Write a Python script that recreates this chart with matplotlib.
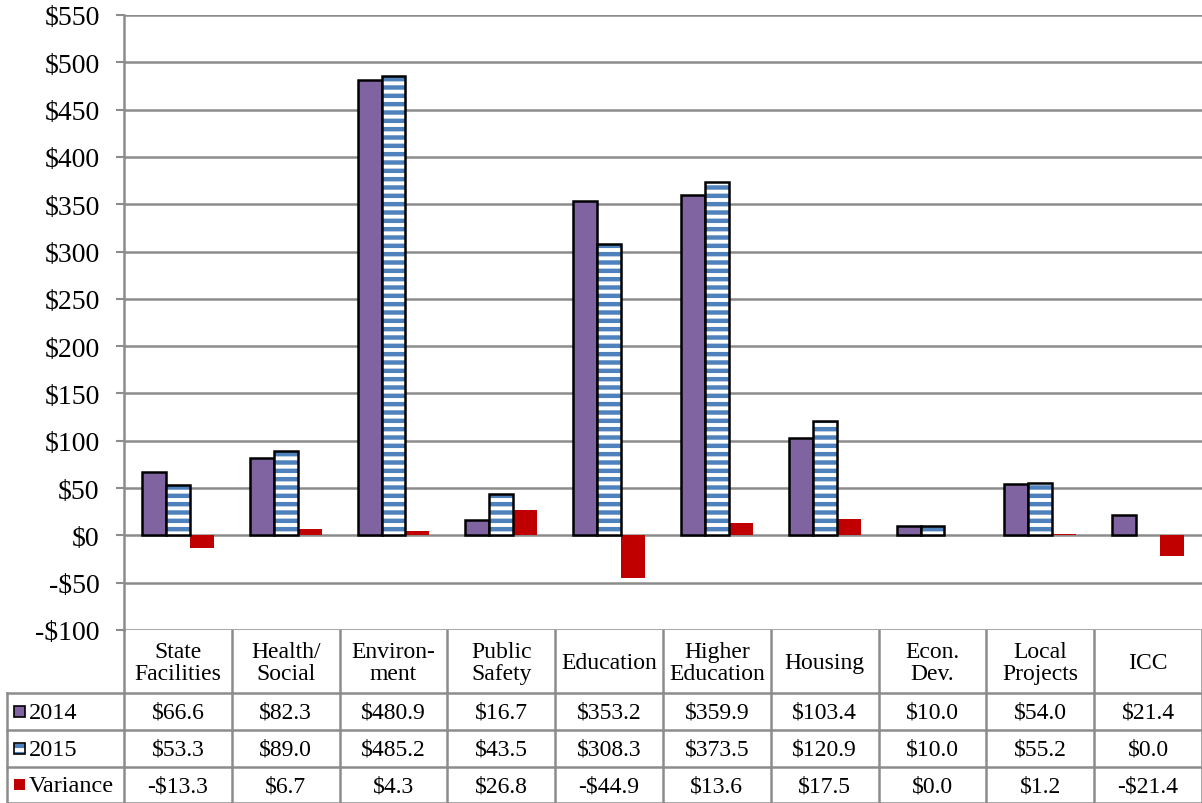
import numpy as np
import matplotlib
matplotlib.use('Agg')
import matplotlib.pyplot as plt
from matplotlib.patches import Rectangle

plt.rcParams['font.family'] = 'serif'
plt.rcParams['font.serif'] = ['Liberation Serif', 'DejaVu Serif']
plt.rcParams['hatch.linewidth'] = 3.2

categories = ['State\nFacilities', 'Health/\nSocial', 'Environ-\nment', 'Public\nSafety',
              'Education', 'Higher\nEducation', 'Housing', 'Econ.\nDev.', 'Local\nProjects', 'ICC']
vals_2014 = [66.6, 82.3, 480.9, 16.7, 353.2, 359.9, 103.4, 10.0, 54.0, 21.4]
vals_2015 = [53.3, 89.0, 485.2, 43.5, 308.3, 373.5, 120.9, 10.0, 55.2, 0.0]
variance = [-13.3, 6.7, 4.3, 26.8, -44.9, 13.6, 17.5, 0.0, 1.2, -21.4]
series_names = ['2014', '2015', 'Variance']
yticks = list(range(-100, 551, 50))

purple = '#8064a2'
blue = '#4f81bd'
red = '#c00000'
grid_gray = '#8c8c8c'

W, H = 1202, 804
fig = plt.figure(figsize=(W / 100, H / 100), dpi=100)
ax = fig.add_axes([124 / W, 1 - 631 / H, 1 - 124 / W, (631 - 16) / H])

x = np.arange(len(categories))
bw = 0.222
ax.bar(x - bw, vals_2014, bw, color=purple, edgecolor='black', linewidth=1.8, zorder=3)
# 2015 striped bars: hatch layer, then black outline
ax.bar(x, vals_2015, bw, color='white', edgecolor=blue, hatch='--', linewidth=0, zorder=3)
lw15 = [1.8 if v != 0 else 0 for v in vals_2015]
ax.bar(x, vals_2015, bw, fill=False, edgecolor='black', linewidth=lw15, zorder=4)
ax.bar(x + bw, variance, bw, color=red, linewidth=0, zorder=3)

ax.set_xlim(-0.5, len(categories) - 0.5)
ax.set_ylim(-100, 550)
ax.set_yticks(yticks)
ax.set_yticklabels([('-$%d' % -v) if v < 0 else ('$%d' % v) for v in yticks], fontsize=20)
ax.set_xticks([])
ax.yaxis.grid(True, color=grid_gray, linewidth=1.8, zorder=0)
ax.set_axisbelow(True)
ax.tick_params(axis='y', length=5.5, width=1.5, color=grid_gray, pad=12)
for s in ['top', 'right', 'bottom']:
    ax.spines[s].set_visible(False)
ax.spines['left'].set_color(grid_gray)
ax.spines['left'].set_linewidth(1.8)

# data table under the chart, drawn in pixel coordinates
tab = fig.add_axes([0, 0, 1, 1 - 631 / H])
tab.set_xlim(0, W)
tab.set_ylim(804, 631)
tab.axis('off')
col_w = (W - 124) / len(categories)
cols = [7, 124] + [124 + col_w * (i + 1) for i in range(len(categories))]
rows = [631, 694, 731, 768, 803.5]
lc = dict(color='#8c8c8c', linewidth=1.8)
for r in rows[1:]:
    tab.plot([7, W], [r, r], **lc)
for c in cols[1:]:
    tab.plot([c, c], [631, 804], **lc)
tab.plot([7, 7], [rows[1], 804], **lc)

for i, name in enumerate(categories):
    xc = 124 + col_w * (i + 0.5)
    tab.text(xc, (rows[0] + rows[1]) / 2 + 1, name, ha='center', va='center',
             fontsize=17, linespacing=1.12)

row_vals = [vals_2014, vals_2015, variance]
for j, vals in enumerate(row_vals):
    yc = (rows[j + 1] + rows[j + 2]) / 2 + 1
    for i, v in enumerate(vals):
        xc = 124 + col_w * (i + 0.5)
        txt = ('-$%.1f' % -v) if v < 0 else ('$%.1f' % v)
        tab.text(xc, yc, txt, ha='center', va='center', fontsize=17)
    tab.text(29, yc, series_names[j], ha='left', va='center', fontsize=17.5)

# legend keys
s = 11
yk = [(rows[k + 1] + rows[k + 2]) / 2 for k in range(3)]
tab.add_patch(Rectangle((14, yk[0] - s / 2), s, s, facecolor=purple, edgecolor='black', linewidth=1.2))
tab.add_patch(Rectangle((14, yk[1] - s / 2), s, s, facecolor='white', edgecolor=blue,
                        hatch='--', linewidth=0))
tab.add_patch(Rectangle((14, yk[1] - s / 2), s, s, fill=False, edgecolor='black', linewidth=1.2))
tab.add_patch(Rectangle((14, yk[2] - s / 2), s, s, facecolor=red, linewidth=0))

fig.savefig('out.png', dpi=100)
